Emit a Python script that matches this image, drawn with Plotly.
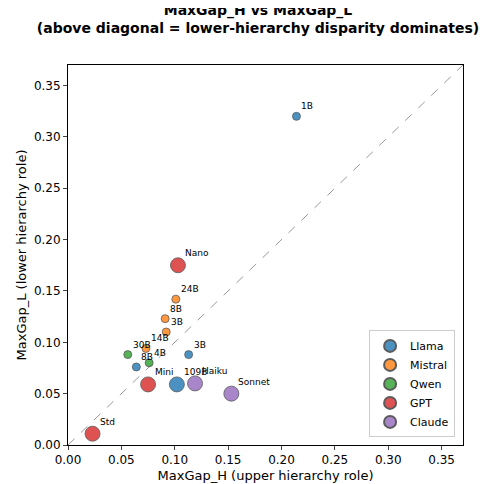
import plotly.graph_objects as go

families = ["Llama", "Mistral", "Qwen", "GPT", "Claude"]
colors = {"Llama": "#1f77b4", "Mistral": "#ff7f0e", "Qwen": "#2ca02c", "GPT": "#d62728", "Claude": "#9467bd"}
labels = ["1B", "8B", "3B", "109B", "24B", "8B", "3B", "14B", "30B", "4B", "Nano", "Mini", "Std", "Haiku", "Sonnet"]
family = ["Llama", "Llama", "Llama", "Llama", "Mistral", "Mistral", "Mistral", "Mistral", "Qwen", "Qwen", "GPT", "GPT", "GPT", "Claude", "Claude"]
gap_h = [0.214, 0.064, 0.113, 0.102, 0.101, 0.091, 0.092, 0.073, 0.056, 0.076, 0.103, 0.075, 0.023, 0.119, 0.153]
gap_l = [0.320, 0.076, 0.088, 0.059, 0.142, 0.123, 0.110, 0.094, 0.088, 0.080, 0.175, 0.059, 0.011, 0.060, 0.050]
big = [False, False, False, True, False, False, False, False, False, False, True, True, True, True, True]

fig = go.Figure()
fig.add_trace(go.Scatter(x=[0, 0.37], y=[0, 0.37], mode="lines",
                         line=dict(color="#999", dash="dash", width=1), showlegend=False, hoverinfo="skip"))
for f in families:
    idx = [i for i in range(len(labels)) if family[i] == f]
    fig.add_trace(go.Scatter(
        x=[gap_h[i] for i in idx], y=[gap_l[i] for i in idx], mode="markers", name=f,
        marker=dict(color=colors[f], opacity=0.8, size=[15 if big[i] else 8 for i in idx],
                    line=dict(color="#333", width=0.8))))
for i in range(len(labels)):
    fig.add_annotation(x=gap_h[i], y=gap_l[i], text=labels[i], showarrow=False,
                       xanchor="left", yanchor="bottom", xshift=3 if not big[i] else 5,
                       yshift=3 if not big[i] else 5, font=dict(size=9, color="#000"))

ax = dict(range=[0, 0.37], tickvals=[0, 0.05, 0.1, 0.15, 0.2, 0.25, 0.3, 0.35],
          tickformat=".2f", showgrid=False, zeroline=False, showline=True, mirror=True,
          linecolor="#000", ticks="outside", ticklen=4, tickfont=dict(size=12, color="#000"),
          automargin=False)
fig.update_layout(
    width=500, height=484, plot_bgcolor="white", paper_bgcolor="white",
    font=dict(family="DejaVu Sans", color="#000"),
    margin=dict(l=60, r=45, t=57, b=47),
    title=dict(text="<b>MaxGap_H vs MaxGap_L<br>(above diagonal = lower-hierarchy disparity dominates)</b>",
               x=0.5, xanchor="center", y=0.985, yanchor="top", font=dict(size=14)),
    xaxis=dict(**ax, title=dict(text="MaxGap_H (upper hierarchy role)", font=dict(size=13), standoff=4)),
    yaxis=dict(**ax, title=dict(text="MaxGap_L (lower hierarchy role)", font=dict(size=13), standoff=4)),
    legend=dict(x=0.98, y=0.02, xanchor="right", yanchor="bottom", bordercolor="#ccc", borderwidth=1,
                font=dict(size=11), bgcolor="rgba(255,255,255,0.8)", itemsizing="constant"),
)
fig.write_html("out.html")
